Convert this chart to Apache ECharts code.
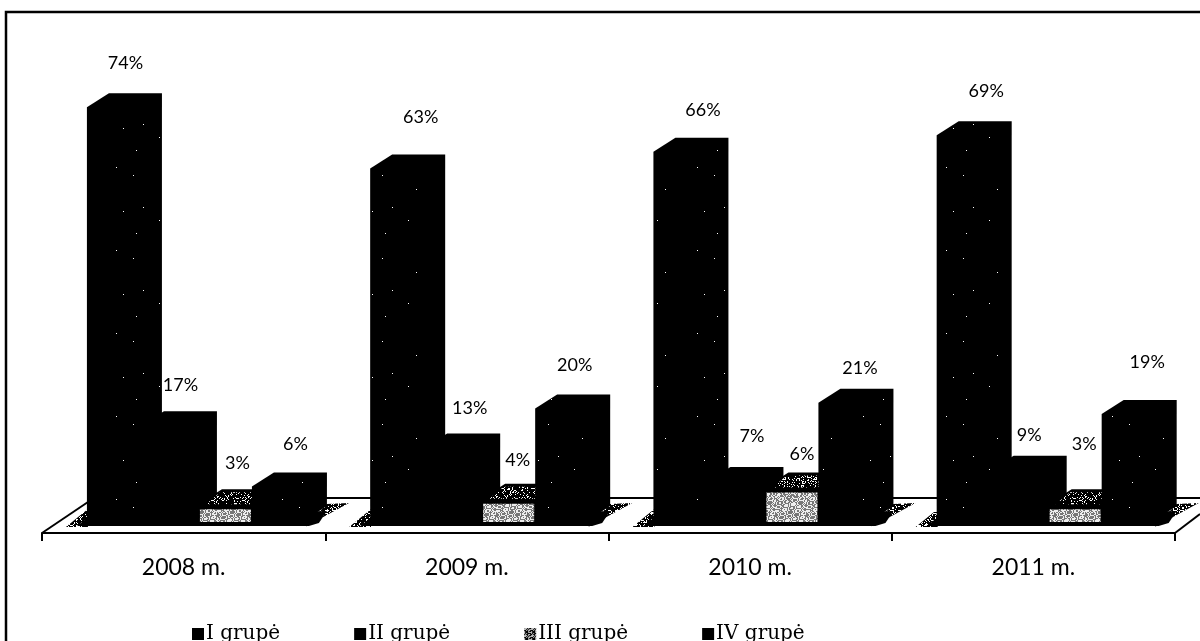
<!DOCTYPE html>
<html><head><meta charset="utf-8">
<style>html,body{margin:0;padding:0;background:#fff}#c{width:1200px;height:641px}</style>
<script src="https://cdn.jsdelivr.net/npm/echarts@6/dist/echarts.min.js"></script>
</head><body><div id="c"></div>
<script>
const categories = ['2008 m.', '2009 m.', '2010 m.', '2011 m.'];
const seriesNames = ['I grupė', 'II grupė', 'III grupė', 'IV grupė'];
const grupeI = [74, 63, 66, 69];
const grupeII = [17, 13, 7, 9];
const grupeIII = [3, 4, 6, 3];
const grupeIV = [6, 20, 21, 19];

// drawing constants (not data)
const BAR_W = 53, DX = 22, DY = 14, BASE_LIFT = 13, GROUP_LEFT = -96.7;
const BAR_OFFSET = [0, 55, 113, 165];
const LABEL_NUDGE = [
  [[1,-1],[13,-8],[12,1],[12,-1]],
  [[1,3],[7,4],[6,-2],[0,8]],
  [[0,3],[-3,5],[-2,11],[-3,-16]],
  [[6,1],[2,0],[4,8],[8,-9]]
];

function pattern(size, bg, fg, test) {
  const c = document.createElement('canvas');
  c.width = c.height = size;
  const g = c.getContext('2d');
  g.fillStyle = bg; g.fillRect(0, 0, size, size);
  g.fillStyle = fg;
  for (let i = 0; i < size; i++) for (let j = 0; j < size; j++)
    if (test(i, j)) g.fillRect(i, j, 1, 1);
  return { image: c, repeat: 'repeat' };
}
const mix = (i, j) => (i * i * 7 + j * j * 13 + i * j * 5 + i * 3 + j) % 97;
const speckle = pattern(83, '#000', '#fff', (i, j) => (i * i * 11 + j * j * 17 + i * j * 3) % 1511 === 7);
const greyFront = pattern(31, '#777', '#eee', (i, j) => mix(i, j) < 45);
const legendGrey = pattern(7, '#000', '#bbb', (i, j) => mix(i, j) < 40);
const topFace = pattern(31, '#000', '#fff', (i, j) => mix(i, j) < 22);
const stipple = pattern(29, '#fff', '#000', (i, j) => mix(i, j) < 72);

const poly = (pts, fill) => ({ type: 'polygon', shape: { points: pts }, style: { fill } });

function barItem(si) {
  return function (params, api) {
    const ci = api.value(0), v = api.value(1);
    const cx = api.coord([ci, 0])[0], y0 = api.coord([ci, 0])[1] - BASE_LIFT;
    const top = api.coord([ci, v])[1] - BASE_LIFT;
    const x = cx + GROUP_LEFT + BAR_OFFSET[si];
    const kids = [];
    const fill = si === 0 || si === 3 ? speckle : '#000';
    kids.push(poly([[x, y0], [x, top], [x + DX, top - DY], [x + BAR_W + DX, top - DY],
      [x + BAR_W + DX, y0 - DY], [x + BAR_W, y0]], fill));
    if (si === 2) {
      const ft = top + 6;
      kids.push({ type: 'rect', shape: { x, y: ft, width: BAR_W - 2, height: y0 + 2 - ft }, style: { fill: greyFront } });
      const a = ft - 5, b = top - DY + 3;
      kids.push(poly([[x + 6, a], [x + 6 + (a - b) * 1.2, b], [x + BAR_W + 4, b], [x + BAR_W + 4, a]], topFace));
    }
    const n = LABEL_NUDGE[si][ci];
    kids.push({
      type: 'text',
      style: {
        text: v + '%', x: x + (BAR_W + DX) / 2 + n[0], y: top - DY - 29 + n[1],
        textAlign: 'center', textVerticalAlign: 'middle', fill: '#000',
        font: '18px Lato'
      },
      z2: 10
    });
    return { type: 'group', children: kids };
  };
}

function floorItem(params, api) {
  const ci = api.value(0);
  const [cx, y] = api.coord([ci, 0]);
  const hw = api.size([1, 0])[0] / 2;
  const x0 = cx + GROUP_LEFT;
  const left = cx - hw, right = cx + hw, backY = y - 35, frontY = y - 7;
  const kids = [];
  const lineTo = (x1, y1, x2, y2) => ({ type: 'line', shape: { x1, y1, x2, y2 }, style: { stroke: '#000', lineWidth: 2 } });
  kids.push(lineTo(ci === 0 ? left + 46 : left, backY, ci === 3 ? right + 25 : right, backY));
  if (ci === 0) kids.push(lineTo(left, y, left + 46, y - 31));
  if (ci === 3) kids.push(lineTo(right, y, right + 25, y - 19));
  kids.push(poly([[x0 - 21, frontY + 1], [x0 + 1, frontY - 17], [x0 + 1, frontY + 1]], stipple));
  kids.push(poly([[x0 + 218, frontY + 1], [x0 + 240, frontY - 22], [x0 + 262, frontY - 23]], stipple));
  kids.push(poly([[x0 - 10, frontY], [x0, frontY - 8], [x0 + 240, frontY - 15], [x0 + 232, frontY - 3], [x0 + 222, frontY]], '#000'));
  return { type: 'group', children: kids };
}

const lists = [grupeI, grupeII, grupeIII, grupeIV];
const series = [{
  type: 'custom', name: 'floor', silent: true, z: 1,
  data: categories.map((c, i) => [i, 0]),
  encode: { x: 0, y: 1 }, renderItem: floorItem, clip: false
}].concat(lists.map((vals, si) => ({
  type: 'custom', name: seriesNames[si], z: 2 + si, clip: false,
  itemStyle: { color: si === 2 ? legendGrey : '#000' },
  data: vals.map((v, i) => [i, v]),
  encode: { x: 0, y: 1 }, renderItem: barItem(si)
})));

const chart = echarts.init(document.getElementById('c'), null, { renderer: 'canvas' });
chart.setOption({
  animation: false,
  backgroundColor: '#fff',
  grid: { left: 42, right: 25, top: 31, bottom: 108, containLabel: false },
  xAxis: {
    type: 'category', data: categories, boundaryGap: true,
    axisLine: { show: true, lineStyle: { color: '#000', width: 2 } },
    axisTick: { show: true, length: 8, lineStyle: { color: '#000', width: 2 } },
    axisLabel: { color: '#000', fontFamily: 'Lato', fontSize: 23, margin: 23 }
  },
  yAxis: { type: 'value', min: 0, max: 90, show: false, splitLine: { show: false } },
  legend: {
    data: seriesNames, left: 187, top: 619, icon: 'rect', itemWidth: 12, itemHeight: 12, itemGap: 74,
    textStyle: { color: '#000', fontFamily: 'DejaVu Serif', fontSize: 20, padding: [0, 0, 0, -3] }
  },
  graphic: [{
    type: 'polyline', silent: true,
    shape: { points: [[6, 641], [6, 12], [1200, 12]] },
    style: { stroke: '#000', fill: null, lineWidth: 2.5 }
  }],
  series
});
</script></body></html>
